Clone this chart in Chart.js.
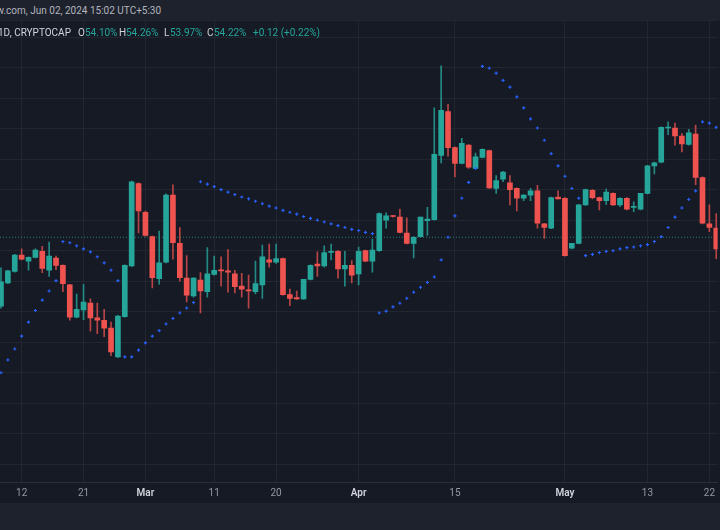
<!DOCTYPE html>
<html>
<head>
<meta charset="utf-8">
<script src="https://cdn.jsdelivr.net/npm/chart.js@4.4.1/dist/chart.umd.min.js"></script>
<style>
  html, body { margin: 0; padding: 0; width: 720px; height: 530px; overflow: hidden; background: #161a25; font-family: Roboto, "Noto Sans", sans-serif; }
  #top { position: absolute; left: 0; top: 0; width: 720px; height: 20px; background: #1e222d; overflow: hidden; }
  #stamp { position: absolute; top: 5px; font-size: 10px; color: #b2b5be; white-space: nowrap; }
  #bottom { position: absolute; left: 0; top: 503px; width: 720px; height: 27px; background: #1e222d; }
  #wrap { position: absolute; left: 0; top: 20px; width: 720px; height: 483px; }
  #legend { position: absolute; left: 0; top: 27px; height: 14px; width: 720px; font-size: 10px; z-index: 2; }
  #legend span { position: absolute; top: 0; white-space: nowrap; }
  .lbl { color: #d1d4dc; }
  .val { color: #26a69a; }
</style>
</head>
<body>
<div id="top"><div id="stamp"><span id="cut">TradingView</span>.com, Jun 02, 2024 15:02 UTC+5:30</div></div>
<div id="wrap"><canvas id="chart" width="720" height="483"></canvas></div>
<div id="legend">
  <span class="lbl" style="left:-2px">1D, CRYPTOCAP</span>
  <span class="lbl" style="left:78px">O</span><span class="val" style="left:85px">54.10%</span>
  <span class="lbl" style="left:119px">H</span><span class="val" style="left:126px">54.26%</span>
  <span class="lbl" style="left:164px">L</span><span class="val" style="left:170px">53.97%</span>
  <span class="lbl" style="left:207px">C</span><span class="val" style="left:214px">54.22%</span>
  <span class="val" style="left:253px">+0.12 (+0.22%)</span>
</div>
<div id="bottom"></div>
<script>
// BTC dominance, daily candles from 9 Feb 2024 (index 0) to 23 May 2024
const open = [53.09,53.47,53.66,53.93,53.83,53.89,53.99,53.68,53.88,53.76,
  53.44,52.91,53.03,53.14,52.90,52.86,52.73,52.26,52.92,53.75,
  55.10,54.63,54.23,53.54,53.81,54.91,54.12,53.55,53.26,53.52,
  53.33,53.61,53.68,53.67,53.62,53.42,53.36,53.33,53.44,53.85,
  53.81,53.87,53.28,53.23,53.21,53.53,53.78,53.75,53.97,53.99,
  53.70,53.76,53.62,54.00,53.83,54.00,54.50,54.57,54.55,54.29,
  54.12,54.23,54.49,54.51,55.56,56.28,55.69,55.43,55.73,55.35,
  55.53,55.64,55.02,55.17,55.11,55.02,54.86,54.91,54.98,54.44,
  54.37,54.88,54.86,54.04,54.12,54.75,54.99,54.87,54.82,54.94,
  54.75,54.86,54.71,54.68,54.94,55.39,55.45,56.01,56.01,55.88,
  55.74,55.91,55.20,54.44,54.37];
const high = [53.72,53.68,53.94,54.03,53.90,54.03,54.07,54.14,53.91,53.77,
  53.45,53.29,53.45,53.21,53.14,53.04,52.83,52.94,53.77,55.14,
  55.11,54.65,54.24,54.32,54.93,55.08,54.38,53.92,53.56,53.64,
  54.05,53.91,53.90,54.02,53.68,53.63,53.60,53.83,54.09,54.11,
  54.11,53.88,53.37,53.34,53.53,53.77,53.98,54.08,54.11,54.00,
  53.99,53.84,54.06,54.01,54.19,54.62,54.62,54.58,54.68,54.54,
  54.23,54.55,54.71,56.34,57.03,56.40,55.70,55.84,55.74,55.60,
  55.67,55.65,55.23,55.30,55.23,55.03,54.92,55.02,55.07,54.45,
  54.88,54.98,54.87,54.12,54.76,55.01,55.00,54.88,55.01,54.95,
  54.87,54.87,54.80,54.94,55.40,55.45,56.03,56.11,56.09,55.92,
  55.99,56.06,55.21,54.75,54.61];
const low = [53.06,53.46,53.65,53.85,53.68,53.88,53.64,53.58,53.69,53.33,
  52.86,52.90,52.87,52.68,52.64,52.59,52.28,52.25,52.91,53.74,
  54.29,54.24,53.39,53.45,53.80,53.86,53.50,53.16,53.24,52.98,
  53.24,53.60,53.42,53.32,53.31,53.24,53.06,53.29,53.22,53.73,
  53.79,53.27,53.10,53.20,53.20,53.52,53.58,53.73,53.85,53.55,
  53.42,53.47,53.44,53.82,53.65,53.99,54.37,54.55,54.29,54.11,
  53.88,54.22,54.25,54.50,55.44,55.55,55.21,55.42,55.35,55.34,
  55.52,55.02,54.94,55.13,54.75,54.65,54.82,54.82,54.37,54.20,
  54.36,54.85,53.91,54.03,54.11,54.74,54.85,54.67,54.76,54.74,
  54.72,54.67,54.64,54.67,54.93,55.26,55.44,55.90,55.73,55.62,
  55.73,55.08,54.44,54.31,53.87];
const close = [53.49,53.67,53.93,53.86,53.89,54.01,53.71,53.91,53.76,53.46,
  52.91,53.04,53.16,52.90,52.86,52.73,52.34,52.93,53.76,55.13,
  54.65,54.25,53.56,53.80,54.91,54.13,53.56,53.27,53.55,53.34,
  53.62,53.68,53.67,53.65,53.41,53.37,53.34,53.46,53.90,53.81,
  53.87,53.28,53.22,53.21,53.53,53.76,53.75,53.97,53.99,53.70,
  53.76,53.60,53.99,53.83,54.01,54.61,54.57,54.56,54.30,54.12,
  54.22,54.55,54.52,55.58,56.30,55.69,55.43,55.76,55.37,55.54,
  55.66,55.03,55.15,55.29,55.00,54.86,54.91,54.98,54.45,54.38,
  54.87,54.85,53.92,54.12,54.75,55.00,54.87,54.82,54.96,54.75,
  54.86,54.68,54.72,54.94,55.39,55.44,56.02,56.02,55.88,55.75,
  55.93,55.20,54.45,54.38,54.03];
// parabolic SAR
const sar = [52.00,52.21,52.39,52.60,52.83,53.02,53.19,53.34,53.51,54.15,
  54.13,54.08,54.03,53.98,53.90,53.80,53.68,53.51,52.26,52.26,
  52.37,52.49,52.60,52.69,52.80,52.89,52.98,53.06,53.15,55.13,
  55.09,55.05,55.00,54.96,54.92,54.88,54.85,54.81,54.77,54.73,
  54.70,54.66,54.63,54.60,54.56,54.53,54.50,54.47,54.44,54.41,
  54.38,54.35,54.33,54.30,54.28,52.98,53.01,53.08,53.14,53.22,
  53.32,53.40,53.48,53.57,53.85,54.22,54.57,54.86,55.12,55.35,
  57.02,56.99,56.91,56.79,56.68,56.52,56.34,56.16,56.01,55.81,
  55.59,55.39,55.22,55.02,54.86,53.92,53.94,53.97,53.99,54.00,
  54.03,54.05,54.06,54.08,54.10,54.15,54.23,54.38,54.55,54.70,
  54.84,54.98,56.11,56.09,56.02];
const lastPrice = 54.22;
const tickPos = [3, 12, 21, 31, 40, 52, 66, 82, 94, 103];
const tickLabels = ['12', '21', 'Mar', '11', '20', 'Apr', '15', 'May', '13', '22'];
const months = ['Mar', 'Apr', 'May'];

// header stamp: only the tail of the site name is visible
const cut = document.getElementById('cut');
document.getElementById('stamp').style.left = (3 - cut.offsetWidth) + 'px';

const xMin = -0.145, xMax = 104.2;
const up = '#26a69a', down = '#ef5350';
const isUp = i => close[i] >= open[i];

const wicks = high.map((h, i) => ({ x: i, y: [low[i], h] }));
const bodies = open.map((o, i) => ({ x: i, y: [o, close[i]] }));
const sarPts = sar.map((v, i) => ({ x: i, y: v }));

new Chart(document.getElementById('chart'), {
  type: 'bar',
  data: {
    datasets: [
      {
        type: 'line',
        data: sarPts,
        showLine: false,
        pointStyle: 'cross',
        pointRadius: 1.6,
        pointBorderWidth: 1.1,
        borderColor: '#2962ff',
        backgroundColor: '#2962ff',
        order: 0
      },
      {
        data: bodies,
        grouped: false,
        barThickness: 5,
        minBarLength: 1,
        borderWidth: 0,
        backgroundColor: ctx => isUp(ctx.dataIndex) ? up : down,
        order: 1
      },
      {
        data: wicks,
        grouped: false,
        barThickness: 1,
        borderWidth: 0,
        backgroundColor: ctx => isUp(ctx.dataIndex) ? 'rgba(38,166,154,0.8)' : 'rgba(239,83,80,0.75)',
        order: 2
      },
      {
        type: 'line',
        data: [{ x: xMin, y: lastPrice }, { x: xMax, y: lastPrice }],
        borderColor: 'rgba(38,166,154,0.7)',
        borderWidth: 1,
        borderDash: [1, 2],
        pointRadius: 0,
        order: 3
      }
    ]
  },
  options: {
    responsive: false,
    animation: false,
    devicePixelRatio: 1,
    layout: { padding: 0, autoPadding: false },
    plugins: { legend: { display: false }, tooltip: { enabled: false } },
    scales: {
      x: {
        type: 'linear',
        min: xMin,
        max: xMax,
        offset: false,
        grid: { offset: false, color: '#222631', drawTicks: false },
        border: { color: '#2a2e39' },
        afterBuildTicks: s => { s.ticks = tickPos.map(v => ({ value: v })); },
        afterFit: s => { s.height = 21; },
        ticks: {
          autoSkip: false,
          maxRotation: 0,
          padding: 5,
          callback: v => tickLabels[tickPos.indexOf(v)],
          color: ctx => months.includes(tickLabels[ctx.index]) ? '#d1d4dc' : '#9598a1',
          font: ctx => ({ family: 'Roboto', size: 10, weight: months.includes(tickLabels[ctx.index]) ? '600' : '400' })
        }
      },
      y: {
        min: 50.21,
        max: 57.78,
        beginAtZero: false,
        grid: { color: '#222631', drawTicks: false },
        border: { display: false },
        afterFit: s => { s.width = 0; },
        ticks: { display: false, stepSize: 0.5 }
      }
    }
  }
});
</script>
</body>
</html>
